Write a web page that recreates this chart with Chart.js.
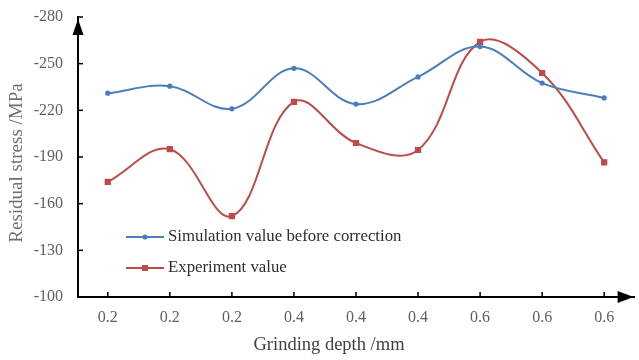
<!DOCTYPE html>
<html>
<head>
<meta charset="utf-8">
<script src="https://cdn.jsdelivr.net/npm/chart.js@4"></script>
<style>
  html, body { margin: 0; padding: 0; background: #ffffff; }
  #wrap { width: 639px; height: 360px; }
</style>
</head>
<body>
<div id="wrap"><canvas id="c" width="639" height="360"></canvas></div>
<script>
// Grinding depth for each specimen (three repeats per depth)
const categories = ['0.2', '0.2', '0.2', '0.4', '0.4', '0.4', '0.6', '0.6', '0.6'];
// Residual stress, MPa
const simulation = [-231, -235.5, -221, -247, -224, -241.5, -261, -237.5, -228];
const experiment = [-174, -195, -152, -225.5, -199, -194.5, -264, -244, -186.5];
// Stress axis ticks
const stressTicks = [-280, -250, -220, -190, -160, -130, -100];

const seriesNames = ['Simulation value before correction', 'Experiment value'];
const depthTitle = 'Grinding depth /mm';
const stressTitle = 'Residual stress /MPa';
const BLUE = '#4a7ebb';
const RED = '#be4b48';
const SERIF = '"Liberation Serif", "Times New Roman", serif';

const toPoints = arr => arr.map((v, i) => ({ x: i, y: v }));

// Axis lines get arrowheads, inward tick marks and their titles
const axisArrows = {
  id: 'axisArrows',
  afterDraw(chart) {
    const { ctx, chartArea: a, scales } = chart;
    ctx.save();
    ctx.fillStyle = '#000';
    ctx.strokeStyle = '#000';
    ctx.lineWidth = 1.5;
    // inward ticks on the depth axis
    scales.x.ticks.forEach(t => {
      const px = scales.x.getPixelForValue(t.value);
      ctx.beginPath();
      ctx.moveTo(px, a.bottom);
      ctx.lineTo(px, a.bottom - 5);
      ctx.stroke();
    });
    // inward ticks on the stress axis
    scales.y.ticks.forEach(t => {
      const py = scales.y.getPixelForValue(t.value);
      ctx.beginPath();
      ctx.moveTo(a.left, py);
      ctx.lineTo(a.left + 5, py);
      ctx.stroke();
    });
    // arrowhead at the top of the stress axis
    ctx.beginPath();
    ctx.moveTo(a.left, a.top + 2);
    ctx.lineTo(a.left - 5.5, a.top + 18);
    ctx.lineTo(a.left + 5.5, a.top + 18);
    ctx.closePath();
    ctx.fill();
    // arrowhead at the right end of the depth axis
    ctx.beginPath();
    ctx.moveTo(a.right - 1, a.bottom);
    ctx.lineTo(a.right - 17, a.bottom - 6);
    ctx.lineTo(a.right - 17, a.bottom + 6);
    ctx.closePath();
    ctx.fill();

    ctx.textAlign = 'center';
    ctx.textBaseline = 'middle';
    // depth axis title
    ctx.fillStyle = '#404040';
    ctx.font = '18.5px ' + SERIF;
    ctx.fillText(depthTitle, 329, 345);
    // stress axis title, rotated
    ctx.fillStyle = '#6f6f6f';
    ctx.font = '19px ' + SERIF;
    ctx.translate(17, 163);
    ctx.rotate(-Math.PI / 2);
    ctx.fillText(stressTitle, 0, 0);
    ctx.restore();
  }
};

// Legend box placed inside the plot, under the curves
const innerLegend = {
  id: 'innerLegend',
  afterDraw(chart) {
    const { ctx } = chart;
    const rows = [
      { y: 237, color: BLUE, style: 'circle' },
      { y: 268, color: RED, style: 'rect' }
    ];
    ctx.save();
    rows.forEach((r, i) => {
      ctx.strokeStyle = r.color;
      ctx.fillStyle = r.color;
      ctx.lineWidth = 2;
      ctx.beginPath();
      ctx.moveTo(126, r.y);
      ctx.lineTo(164, r.y);
      ctx.stroke();
      if (r.style === 'circle') {
        ctx.beginPath();
        ctx.arc(145, r.y, 2.6, 0, Math.PI * 2);
        ctx.fill();
      } else {
        ctx.fillRect(142, r.y - 3, 6, 6);
      }
      ctx.fillStyle = '#2e2e2e';
      ctx.font = '16.8px ' + SERIF;
      ctx.textBaseline = 'middle';
      ctx.textAlign = 'left';
      ctx.fillText(seriesNames[i], 168, r.y);
    });
    ctx.restore();
  }
};

new Chart(document.getElementById('c'), {
  type: 'line',
  data: {
    datasets: [
      {
        label: seriesNames[0],
        data: toPoints(simulation),
        borderColor: BLUE,
        backgroundColor: BLUE,
        borderWidth: 2,
        pointStyle: 'circle',
        pointRadius: 2.6,
        pointBorderWidth: 0,
        tension: 0.38,
        fill: false
      },
      {
        label: seriesNames[1],
        data: toPoints(experiment),
        borderColor: RED,
        backgroundColor: RED,
        borderWidth: 2,
        pointStyle: 'rect',
        pointRadius: 4.4,
        pointBorderWidth: 0,
        tension: 0.38,
        fill: false
      }
    ]
  },
  options: {
    responsive: false,
    animation: false,
    devicePixelRatio: 1,
    layout: { padding: { top: 17, right: 0, bottom: 0, left: 0 } },
    plugins: {
      legend: { display: false },
      tooltip: { enabled: false }
    },
    scales: {
      x: {
        type: 'linear',
        min: -0.48,
        max: 8.49,
        afterBuildTicks: s => { s.ticks = categories.map((_, i) => ({ value: i })); },
        afterFit: s => { s.height = 63; },
        grid: { display: false, drawTicks: false },
        border: { display: true, color: '#000', width: 2 },
        ticks: {
          autoSkip: false,
          maxRotation: 0,
          padding: 11,
          color: '#5f5f5f',
          font: { family: SERIF, size: 16 },
          callback: v => categories[v]
        },
        title: { display: false }
      },
      y: {
        type: 'linear',
        reverse: true,
        min: -280,
        max: -100,
        afterBuildTicks: s => { s.ticks = stressTicks.map(v => ({ value: v })); },
        afterFit: s => { s.width = 78; s.paddingTop = 0; s.paddingBottom = 0; },
        grid: { display: false, drawTicks: false },
        border: { display: true, color: '#000', width: 2 },
        ticks: {
          padding: 15,
          color: '#5f5f5f',
          font: { family: SERIF, size: 16 }
        },
        title: { display: false }
      }
    }
  },
  plugins: [axisArrows, innerLegend]
});
</script>
</body>
</html>
